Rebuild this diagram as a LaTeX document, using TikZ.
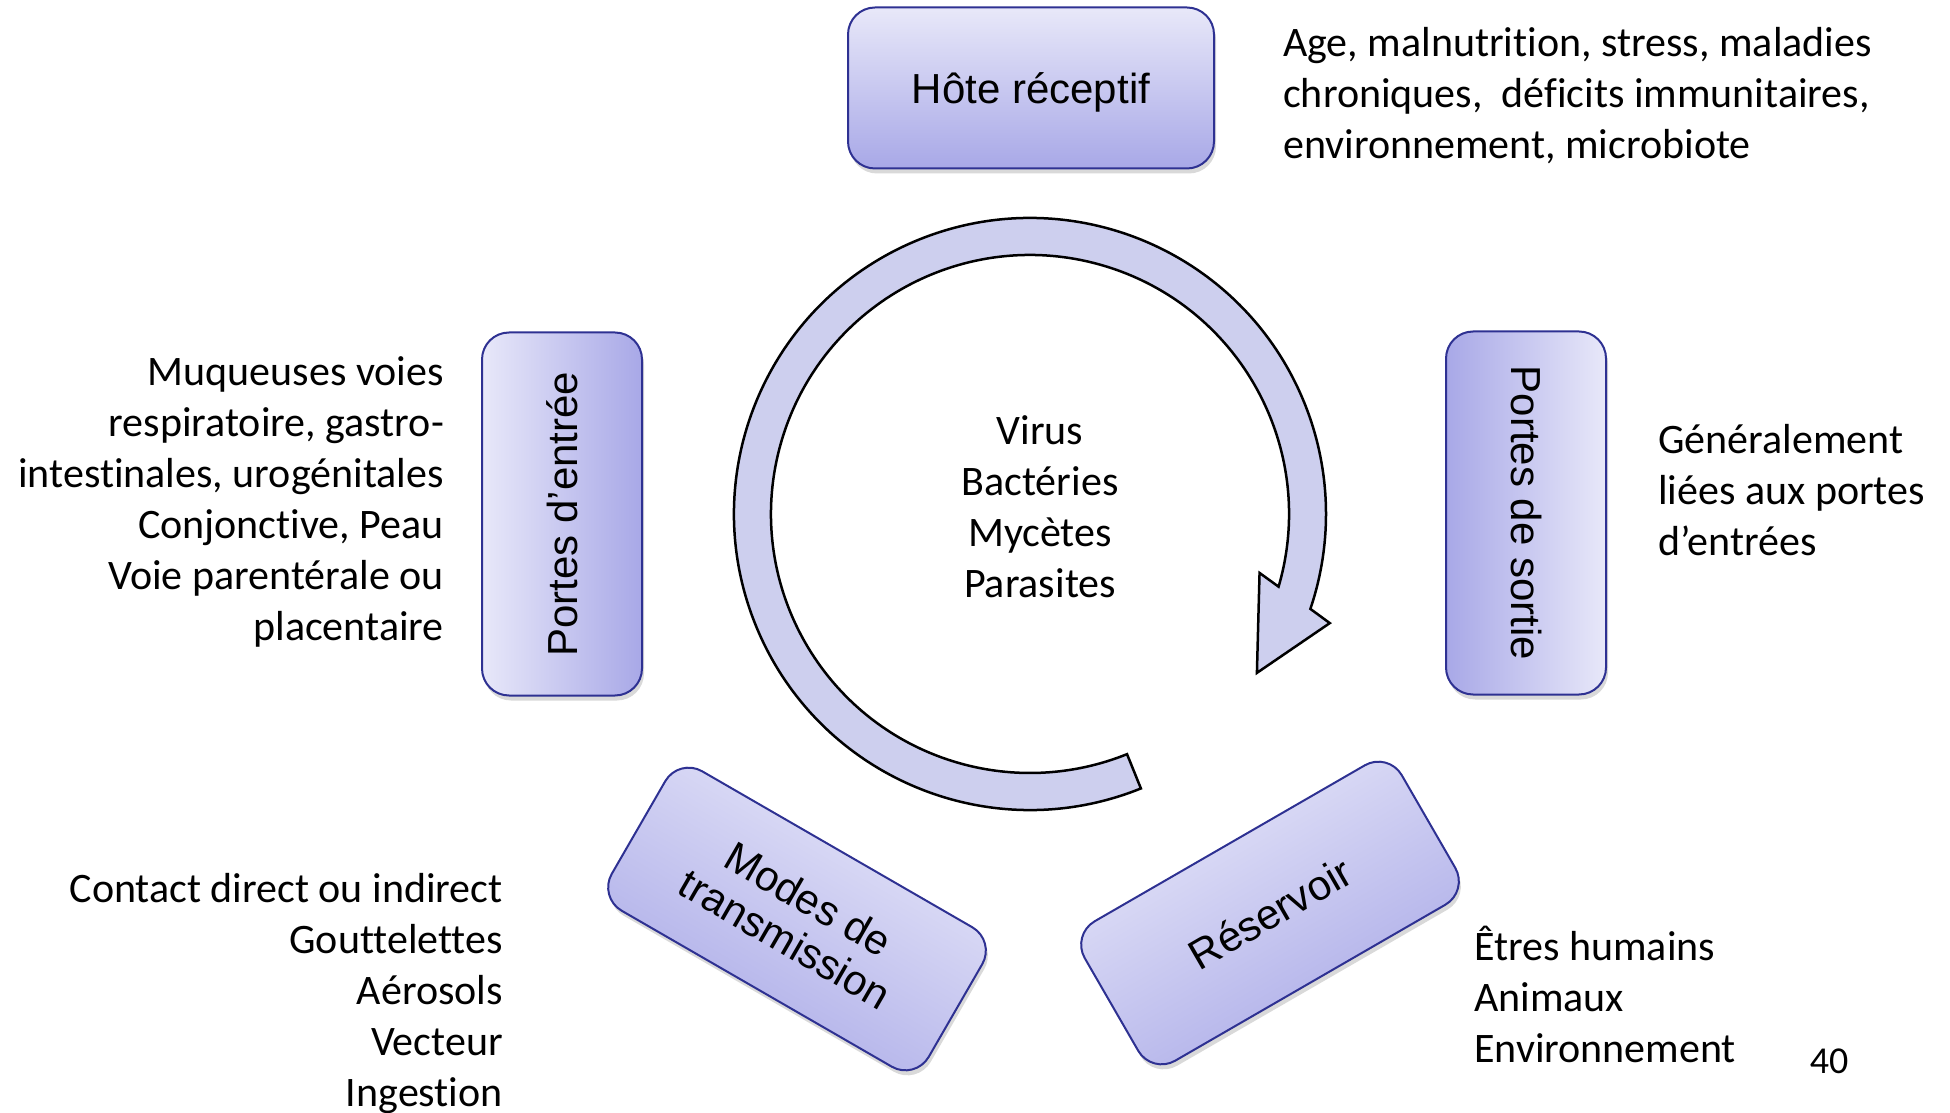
\documentclass[tikz,border=0pt]{standalone}
\usepackage{fontspec}
\setmainfont{Carlito}[Ligatures=CommonOff]
\newfontfamily\boxfont{Liberation Sans}
\usetikzlibrary{shadows}
\definecolor{boxtop}{RGB}{232,232,249}
\definecolor{boxbottom}{RGB}{168,168,231}
\definecolor{boxline}{RGB}{46,49,146}
\definecolor{cyclefill}{RGB}{205,207,238}
\begin{document}
\begin{tikzpicture}[
  x=1pt, y=1pt,
  stage/.style={
    draw=boxline,
    line width=2pt,
    rounded corners=27pt,
    top color=boxtop,
    bottom color=boxbottom,
    minimum width=366pt,
    minimum height=161pt,
    align=center,
    font=\boxfont\fontsize{42}{46}\selectfont,
    drop shadow={shadow xshift=2pt, shadow yshift=-5pt, opacity=0.25, fill=black!60}
  },
  note/.style={
    inner sep=0pt,
    font=\fontsize{42}{51}\selectfont
  }
]
\useasboundingbox (0,0) rectangle (1950,1112);

% the cycle
\coordinate (hub) at (1030,598);
\filldraw[fill=cyclefill, draw=black, line width=2.5pt]
  ([shift={(-68:296)}]hub) arc[start angle=-68, end angle=-378.7, radius=296]
  -- ([shift={(-20:319)}]hub) -- ([shift={(-35:277)}]hub)
  -- ([shift={(-14.4:237)}]hub) -- ([shift={(-16.3:259)}]hub)
  arc[start angle=-16.3, end angle=292, radius=259] -- cycle;
\node[note, align=center] (agents) at (1040,605) {Virus\\ Bactéries\\ Mycètes\\ Parasites};

% the links of the chain
\node[stage, text height=41pt, text depth=9pt] (host) at (1031,1024) {Hôte réceptif};
\node[stage, rotate=90, shading angle=90, minimum width=363pt, minimum height=160pt] (entry) at (562,598) {Portes d’entrée};
\node[stage, rotate=-90, shading angle=-90, minimum width=363pt, minimum height=160pt] (exit) at (1526,599) {Portes de sortie};
\node[stage, rotate=30, shading angle=30] (reservoir) at (1270,199) {Réservoir};
\node[stage, rotate=-30, shading angle=-30] (modes) at (797,193) {Modes de\\ transmission};

% what goes with each link
\node[note, align=left, anchor=west] (hostnote) at (1283,1016) {Age, malnutrition, stress, maladies\\ chroniques,\ \ déficits immunitaires,\\ environnement, microbiote};
\node[note, align=right, anchor=east] (entrynote) at (444,610) {Muqueuses voies\\ respiratoire, gastro-\\ intestinales, urogénitales\\ Conjonctive, Peau\\ Voie parentérale ou\\ placentaire};
\node[note, align=left, anchor=west] (exitnote) at (1658,622) {Généralement\\ liées aux portes\\ d’entrées};
\node[note, align=right, anchor=east] (modesnote) at (503,118) {Contact direct ou indirect\\ Gouttelettes\\ Aérosols\\ Vecteur\\ Ingestion};
\node[note, align=left, anchor=west] (reservoirnote) at (1474,118) {Êtres humains\\ Animaux\\ Environnement};
\node[note, font=\fontsize{38}{46}\selectfont] (page) at (1829,51) {40};
\end{tikzpicture}
\end{document}
